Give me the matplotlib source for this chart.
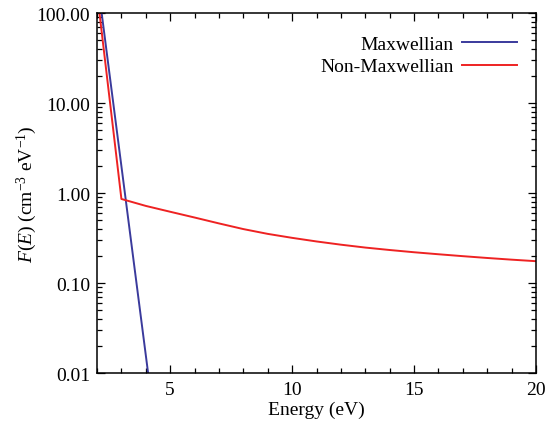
import numpy as np
import matplotlib.pyplot as plt
from matplotlib.ticker import FixedLocator, LogLocator, NullFormatter, FormatStrFormatter, MultipleLocator

plt.rcParams['font.family'] = ['Liberation Serif', 'DejaVu Serif']
plt.rcParams['mathtext.fontset'] = 'custom'
plt.rcParams['mathtext.rm'] = 'Liberation Serif'
plt.rcParams['mathtext.it'] = 'Liberation Serif:italic'

# Maxwellian: straight line on the log axis
energy_max = [2.0, 2.5, 3.0, 3.5, 4.0, 4.5]
f_max = [251.0, 22.3, 1.99, 0.177, 0.0158, 0.0014]

# Non-Maxwellian: steep part then a slow tail
energy_non = [2.0, 3.0, 4.0, 5.0, 6.0, 7.0, 8.0, 9.0, 10.0, 11.0, 12.0,
              13.0, 14.0, 15.0, 16.0, 17.0, 18.0, 19.0, 20.0]
f_non = [170.0, 0.86, 0.72, 0.62, 0.535, 0.46, 0.398, 0.352, 0.318, 0.29, 0.267,
         0.248, 0.233, 0.22, 0.209, 0.199, 0.19, 0.182, 0.175]

FS = 14

fig = plt.figure(figsize=(5.56, 4.27), dpi=100)
ax = fig.add_axes([0.1745, 0.124, 0.7895, 0.843])

ax.semilogy(energy_max, f_max, color='#3a3a9c', lw=1.4, label='Maxwellian')
ax.semilogy(energy_non, f_non, color='#ee2222', lw=1.4, label='Non-Maxwellian')

ax.set_xlim(2, 20)
ax.set_ylim(0.01, 100)

ax.xaxis.set_major_locator(FixedLocator([5, 10, 15, 20]))
ax.xaxis.set_minor_locator(MultipleLocator(1))
ax.yaxis.set_major_locator(FixedLocator([0.01, 0.1, 1, 10, 100]))
ax.yaxis.set_major_formatter(FormatStrFormatter('%.2f'))
ax.yaxis.set_minor_locator(LogLocator(base=10, subs=np.arange(2, 10)))
ax.yaxis.set_minor_formatter(NullFormatter())

ax.tick_params(which='both', direction='in', top=True, right=True,
               labelsize=FS, width=0.9, colors='black')
ax.tick_params(axis='x', pad=6)
ax.tick_params(axis='y', pad=5)
ax.tick_params(which='major', length=6)
ax.tick_params(which='minor', length=3.5)
for s in ax.spines.values():
    s.set_linewidth(1.1)

ax.set_xlabel('Energy (eV)', fontsize=FS, labelpad=2)
ax.set_ylabel(r'$F(E)$ (cm$^{-3}$ eV$^{-1}$)', fontsize=FS, labelpad=-2)

ax.legend(loc='upper right', bbox_to_anchor=(0.996, 0.987), frameon=False,
          markerfirst=False, handlelength=2.83, fontsize=FS,
          labelspacing=0.25, handletextpad=0.4)

fig.savefig('out.png', dpi=100)
